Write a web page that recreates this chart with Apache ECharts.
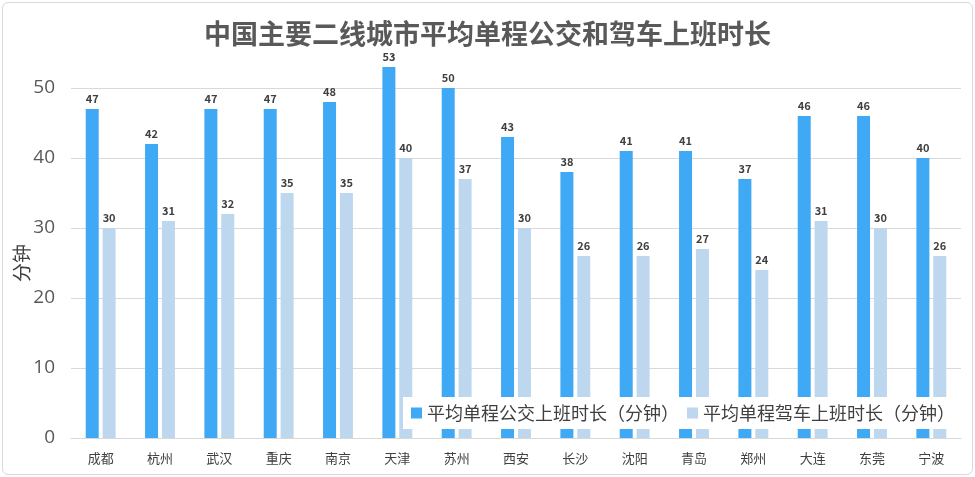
<!DOCTYPE html>
<html><head><meta charset="utf-8">
<script src="https://cdn.jsdelivr.net/npm/echarts@6/dist/echarts.min.js"></script>
<style>
html,body{margin:0;padding:0;background:#fff;}
#wrap{position:absolute;left:2px;top:2px;width:969px;height:471px;border:1px solid #d9d9d9;border-radius:6px;}
#c{width:975px;height:477px;position:absolute;left:0;top:0;}
</style></head>
<body><div id="wrap"></div><div id="c"></div>
<script>
const categories = ['成都','杭州','武汉','重庆','南京','天津','苏州','西安','长沙','沈阳','青岛','郑州','大连','东莞','宁波'];
const busValues = [47,42,47,47,48,53,50,43,38,41,41,37,46,46,40];
const carValues = [30,31,32,35,35,40,37,30,26,26,27,24,31,30,26];
const seriesNames = ['平均单程公交上班时长（分钟）','平均单程驾车上班时长（分钟）'];
const yTicks = [0,10,20,30,40,50];

const chart = echarts.init(document.getElementById('c'));
const font = '"Noto Sans CJK SC","Noto Sans",sans-serif';
const lbl = {show:true,position:'top',fontSize:11,fontWeight:'bold',color:'#404040',fontFamily:font,distance:5};
chart.setOption({
  animation:false,
  textStyle:{fontFamily:font},
  title:{text:'中国主要二线城市平均单程公交和驾车上班时长',left:'center',top:15,
    textStyle:{fontSize:27,fontWeight:'bold',color:'#595959',fontFamily:font}},
  legend:{data:seriesNames,icon:'rect',right:12,top:397,itemWidth:11,itemHeight:11,itemGap:8,
    backgroundColor:'#fff',padding:[7,8,7,8],z:10,
    textStyle:{fontSize:18,color:'#404040',fontFamily:font}},
  grid:{left:71,right:14,top:88,bottom:39,containLabel:false,outerBoundsMode:'none'},
  xAxis:{type:'category',data:categories,
    axisLine:{lineStyle:{color:'#d9d9d9'}},axisTick:{show:false},
    axisLabel:{fontSize:13,color:'#404040',margin:14,fontFamily:font}},
  yAxis:{type:'value',min:yTicks[0],max:yTicks[yTicks.length-1],interval:10,
    name:'分钟',nameLocation:'middle',nameGap:40,nameRotate:90,nameMoveOverlap:false,
    nameTextStyle:{fontSize:19,color:'#404040',fontFamily:font},
    axisLine:{show:false},axisTick:{show:false},
    axisLabel:{fontSize:19,color:'#595959',margin:16,fontFamily:'"Open Sans",sans-serif'},
    splitLine:{lineStyle:{color:'#d9d9d9'}}},
  series:[
    {name:seriesNames[0],type:'bar',data:busValues,barWidth:13,barGap:'30%',clip:false,
     itemStyle:{color:'#3FA9F5'},label:lbl},
    {name:seriesNames[1],type:'bar',data:carValues,barWidth:13,clip:false,
     itemStyle:{color:'#BDD7EE'},label:lbl}
  ]
});
</script></body></html>
